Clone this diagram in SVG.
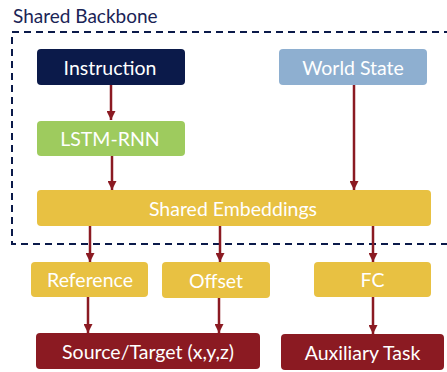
<svg xmlns="http://www.w3.org/2000/svg" width="447" height="372" viewBox="0 0 447 372">
<style>
.t{font-family:Lato,"Open Sans","Liberation Sans",sans-serif;font-size:19.5px;fill:#fff;text-anchor:middle;dominant-baseline:central}
.c{stroke:#8b1a22;stroke-width:2.5;fill:none;marker-end:url(#ah)}
</style>
<defs>
<marker id="ah" viewBox="0 0 10 10" refX="10" refY="5" markerWidth="3.6" markerHeight="3.6" orient="auto" markerUnits="strokeWidth">
<path d="M0,0 L10,5 L0,10 z" fill="#8b1a22"/>
</marker>
</defs>
<rect width="447" height="372" fill="#fff"/>
<text x="13" y="23" font-family="Lato,'Open Sans','Liberation Sans',sans-serif" font-size="19" fill="#1a2456">Shared Backbone</text>
<rect x="12" y="32" width="460" height="212" fill="none" stroke="#0b1a4a" stroke-width="2" stroke-dasharray="7,5"/>
<g id="connectors">
<line class="c" x1="111" y1="85" x2="111" y2="120"/>
<line class="c" x1="354" y1="85" x2="354" y2="190"/>
<line class="c" x1="112" y1="156" x2="112" y2="190"/>
<line class="c" x1="90" y1="226" x2="90" y2="262"/>
<line class="c" x1="220" y1="226" x2="220" y2="262"/>
<line class="c" x1="373" y1="226" x2="373" y2="262"/>
<line class="c" x1="88" y1="297" x2="88" y2="333"/>
<line class="c" x1="219" y1="298" x2="219" y2="333"/>
<line class="c" x1="373" y1="297" x2="373" y2="334"/>
</g>
<g id="instruction"><rect x="37" y="49" width="148" height="36" rx="4" fill="#0b1a4a"/><text class="t" x="110" y="67">Instruction</text></g>
<g id="world-state"><rect x="279" y="49" width="148" height="36" rx="4" fill="#8eafd0"/><text class="t" x="353" y="67">World State</text></g>
<g id="lstm"><rect x="37" y="121" width="148" height="35" rx="4" fill="#9ecb5e"/><text class="t" x="110" y="138.5">LSTM-RNN</text></g>
<g id="shared-embeddings"><rect x="37" y="190" width="394" height="36" rx="4" fill="#e8c142"/><text class="t" x="233" y="208">Shared Embeddings</text></g>
<g id="reference"><rect x="31" y="262" width="117" height="35" rx="4" fill="#e8c142"/><text class="t" x="90" y="279.5">Reference</text></g>
<g id="offset"><rect x="162" y="262" width="108" height="36" rx="4" fill="#e8c142"/><text class="t" x="216" y="280">Offset</text></g>
<g id="fc"><rect x="314" y="262" width="117" height="35" rx="4" fill="#e8c142"/><text class="t" x="372.5" y="279.5">FC</text></g>
<g id="source-target"><rect x="36" y="333" width="224" height="36" rx="4" fill="#8b1a22"/><text class="t" x="148" y="351">Source/Target (x,y,z)</text></g>
<g id="auxiliary"><rect x="281" y="334" width="163" height="36" rx="4" fill="#8b1a22"/><text class="t" x="362.5" y="352">Auxiliary Task</text></g>
</svg>
